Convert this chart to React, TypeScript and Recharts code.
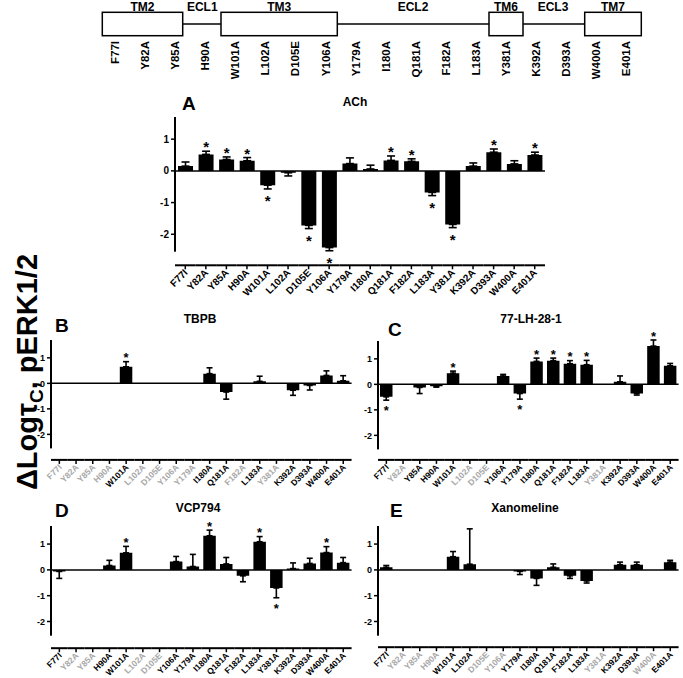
import React from 'react'
import { BarChart, Bar, XAxis, YAxis, ReferenceLine, ErrorBar, LabelList } from 'recharts'

const FONT = 'Arial, "Liberation Sans", Helvetica, sans-serif'

const residues = [
  'F77I', 'Y82A', 'Y85A', 'H90A', 'W101A', 'L102A', 'D105E', 'Y106A', 'Y179A',
  'I180A', 'Q181A', 'F182A', 'L183A', 'Y381A', 'K392A', 'D393A', 'W400A', 'E401A',
]

// A – ACh
const achValues = [0.15, 0.52, 0.36, 0.32, -0.45, -0.06, -1.72, -2.42, 0.23, 0.06, 0.33, 0.30, -0.68, -1.69, 0.15, 0.59, 0.22, 0.50]
const achErrors = [0.13, 0.10, 0.08, 0.10, 0.12, 0.10, 0.10, 0.10, 0.18, 0.12, 0.14, 0.08, 0.10, 0.10, 0.10, 0.10, 0.10, 0.09]
const achStars = ['Y82A', 'Y85A', 'H90A', 'W101A', 'D105E', 'Y106A', 'Q181A', 'F182A', 'L183A', 'Y381A', 'D393A', 'E401A']

// B – TBPB
const tbpbValues = [null, null, null, null, 0.65, null, null, null, null, 0.38, -0.34, null, 0.08, null, -0.27, -0.08, 0.31, 0.10]
const tbpbErrors = [null, null, null, null, 0.20, null, null, null, null, 0.23, 0.28, null, 0.20, null, 0.20, 0.18, 0.18, 0.20]
const tbpbStars = ['W101A']

// C – 77-LH-28-1
const lhValues = [-0.49, null, -0.12, -0.07, 0.44, null, null, 0.33, -0.36, 0.90, 0.93, 0.81, 0.77, null, 0.10, -0.36, 1.50, 0.73]
const lhErrors = [0.13, null, 0.24, 0.04, 0.08, null, null, 0.06, 0.22, 0.13, 0.10, 0.12, 0.17, null, 0.23, 0.06, 0.24, 0.09]
const lhStars = ['F77I', 'W101A', 'Y179A', 'I180A', 'Q181A', 'F182A', 'L183A', 'W400A']

// D – VCP794
const vcpValues = [-0.06, null, null, 0.17, 0.66, null, null, 0.32, 0.13, 1.32, 0.23, -0.23, 1.09, -0.70, 0.05, 0.25, 0.67, 0.28]
const vcpErrors = [0.27, null, null, 0.20, 0.25, null, null, 0.20, 0.47, 0.22, 0.25, 0.23, 0.20, 0.38, 0.22, 0.20, 0.23, 0.20]
const vcpStars = ['W101A', 'I180A', 'L183A', 'Y381A', 'W400A']

// E – Xanomeline
const xanValues = [0.10, null, null, null, 0.51, 0.22, null, null, -0.06, -0.33, 0.10, -0.23, -0.43, null, 0.20, 0.20, null, 0.30]
const xanErrors = [0.07, null, null, null, 0.20, 1.37, null, null, 0.12, 0.27, 0.13, 0.10, 0.08, null, 0.10, 0.10, null, 0.07]
const xanStars: string[] = []

const yTicks = [-2, -1, 0, 1]

function XTick(props: any) {
  const { x, y, payload, band, gap, fontSize, grey } = props
  const ly = y + gap
  const isGrey = grey.includes(payload.value)
  const tx = x + 3
  const ty = ly + 8
  return (
    <g>
      <line x1={x - band / 2} x2={x + band / 2} y1={ly} y2={ly} stroke="#000" strokeWidth={2} />
      <line x1={x} x2={x} y1={ly} y2={ly + 4} stroke="#000" strokeWidth={1.5} />
      <text
        x={tx} y={ty} transform={`rotate(-45 ${tx} ${ty})`} textAnchor="end"
        fontSize={fontSize} fontWeight="bold" fontFamily={FONT} fill={isGrey ? '#a8a8a8' : '#000'}
      >
        {payload.value}
      </text>
    </g>
  )
}

interface PanelCfg {
  values: (number | null)[]
  errors: (number | null)[]
  stars: string[]
  left: number
  top: number
  plotW: number
  plotH: number
  gap: number
  barSize: number
  cap: number
  tickFont: number
  numFont: number
  starFont: number
  starGap: number
}

function Panel({ cfg }: { cfg: PanelCfg }) {
  const { values, errors, stars, left, top, plotW, plotH, gap, barSize, cap, tickFont, numFont, starFont, starGap } = cfg
  const data = residues.map((r, i) => ({ name: r, value: values[i], err: errors[i], star: stars.includes(r) }))
  const grey = residues.filter((_, i) => values[i] == null)
  const yw = 30
  const mt = 24
  const xh = 60
  const band = plotW / residues.length

  const errKey = (d: any) => {
    if (d.value == null || d.err == null) return null
    return d.value >= 0 ? [0, d.err] : [d.err, 0]
  }

  // star above / below the error bar; looked up by residue name
  const starLabel = (p: any) => {
    const { x, y, width, height, value } = p
    const d = data.find((e) => e.name === value)
    if (!d || !d.star || d.value == null || d.err == null) return null
    const h = Number(height)
    const ppu = Math.abs(h) / Math.abs(d.value)
    const topY = Math.min(Number(y), Number(y) + h)
    const botY = Math.max(Number(y), Number(y) + h)
    const cx = Number(x) + Number(width) / 2
    const sy = d.value >= 0
      ? topY - d.err * ppu - starGap + starFont * 0.6
      : botY + d.err * ppu + starGap + starFont * 0.6
    return (
      <text x={cx} y={sy} textAnchor="middle" fontSize={starFont} fontWeight="bold" fontFamily={FONT} fill="#000">*</text>
    )
  }

  return (
    <div style={{ position: 'absolute', left: left - yw, top: top - mt }}>
      <BarChart
        width={yw + plotW + 4} height={mt + plotH + xh} data={data}
        margin={{ top: mt, right: 4, bottom: 0, left: 0 }} barSize={barSize}
      >
        <XAxis
          dataKey="name" axisLine={false} tickLine={false} tickSize={0} tickMargin={0}
          interval={0} height={xh}
          tick={<XTick band={band} gap={gap} fontSize={tickFont} grey={grey} />}
        />
        <YAxis
          domain={[-2.55, 1.7]} ticks={yTicks} width={yw} allowDataOverflow
          axisLine={{ stroke: '#000', strokeWidth: 2 }}
          tickLine={{ stroke: '#000', strokeWidth: 1.5 }} tickSize={4}
          tick={{ fontSize: numFont, fontWeight: 'bold', fill: '#000', fontFamily: FONT }}
        />
        <ReferenceLine y={0} stroke="#000" strokeWidth={1.5} />
        <Bar dataKey="value" fill="#000" isAnimationActive={false}>
          <ErrorBar dataKey={errKey} width={cap} stroke="#000" strokeWidth={1.6} direction="y" />
          <LabelList dataKey="name" content={starLabel} />
        </Bar>
      </BarChart>
    </div>
  )
}

const small = { barSize: 12.5, cap: 3, tickFont: 8.5, numFont: 9, starFont: 13, starGap: 7, plotW: 300.6 }

const panels: PanelCfg[] = [
  { values: achValues, errors: achErrors, stars: achStars, left: 175, top: 116.8, plotW: 370, plotH: 134.7, gap: 13.6,
    barSize: 15, cap: 4, tickFont: 10, numFont: 10, starFont: 15, starGap: 8 },
  { ...small, values: tbpbValues, errors: tbpbErrors, stars: tbpbStars, left: 51, top: 339.6, plotH: 108.4, gap: 11.5 },
  { ...small, values: lhValues, errors: lhErrors, stars: lhStars, left: 378, top: 340.6, plotH: 108.4, gap: 10.5 },
  { ...small, values: vcpValues, errors: vcpErrors, stars: vcpStars, left: 51, top: 525.8, plotH: 109.7, gap: 12.5 },
  { ...small, values: xanValues, errors: xanErrors, stars: xanStars, left: 378, top: 525.8, plotH: 109.7, gap: 11.5 },
]

// schematic of the receptor regions
const domainBoxes = [
  { name: 'TM2', x0: 102.3, x1: 182.7 },
  { name: 'TM3', x0: 221, x1: 337.3 },
  { name: 'TM6', x0: 489, x1: 523 },
  { name: 'TM7', x0: 584.7, x1: 641.3 },
]
const loopLabels = [
  { name: 'ECL1', x: 202.3 },
  { name: 'ECL2', x: 413 },
  { name: 'ECL3', x: 553 },
]

const titles = [
  { t: 'A', x: 182, y: 110, size: 19, anchor: 'start' },
  { t: 'ACh', x: 355, y: 106, size: 12, anchor: 'middle' },
  { t: 'B', x: 55, y: 332, size: 19, anchor: 'start' },
  { t: 'TBPB', x: 200, y: 323, size: 12, anchor: 'middle' },
  { t: 'C', x: 388, y: 336, size: 19, anchor: 'start' },
  { t: '77-LH-28-1', x: 531, y: 323, size: 12, anchor: 'middle' },
  { t: 'D', x: 55, y: 517, size: 19, anchor: 'start' },
  { t: 'VCP794', x: 198, y: 512, size: 12, anchor: 'middle' },
  { t: 'E', x: 390, y: 517, size: 19, anchor: 'start' },
  { t: 'Xanomeline', x: 525, y: 512, size: 12, anchor: 'middle' },
]

export default function App() {
  const resStep = (626.3 - 115) / (residues.length - 1)
  return (
    <div style={{ position: 'absolute', left: 0, top: 0, width: 683, height: 678, background: '#fff', fontFamily: FONT }}>
      <svg width={683} height={678} style={{ position: 'absolute', left: 0, top: 0 }}>
        {/* schematic */}
        <line x1={182.7} x2={221} y1={24} y2={24} stroke="#000" strokeWidth={1.5} />
        <line x1={337.3} x2={489} y1={24} y2={24} stroke="#000" strokeWidth={1.5} />
        <line x1={523} x2={584.7} y1={24} y2={24} stroke="#000" strokeWidth={1.5} />
        {domainBoxes.map((b) => (
          <g key={b.name}>
            <rect x={b.x0} y={12.3} width={b.x1 - b.x0} height={23.4} fill="#fff" stroke="#000" strokeWidth={1.5} />
            <text x={(b.x0 + b.x1) / 2} y={10.5} textAnchor="middle" fontSize={12} fontWeight="bold" fontFamily={FONT}>{b.name}</text>
          </g>
        ))}
        {loopLabels.map((l) => (
          <text key={l.name} x={l.x} y={10.5} textAnchor="middle" fontSize={12} fontWeight="bold" fontFamily={FONT}>{l.name}</text>
        ))}
        {residues.map((r, i) => {
          const x = 115 + i * resStep + 4
          return (
            <text key={r} x={x} y={41} transform={`rotate(-90 ${x} 41)`} textAnchor="end"
              fontSize={11.5} fontWeight="bold" fontFamily={FONT}>{r}</text>
          )
        })}

        {titles.map((t) => (
          <text key={t.t} x={t.x} y={t.y} textAnchor={t.anchor as any} fontSize={t.size} fontWeight="bold" fontFamily={FONT}>{t.t}</text>
        ))}

        {/* shared y label */}
        <text x={37} y={372} transform="rotate(-90 37 372)" textAnchor="middle" fontSize={29} fontWeight="bold" fontFamily={FONT}>
          ΔLogτ<tspan fontSize={19} dy={6}>C</tspan><tspan dy={-6}>, pERK1/2</tspan>
        </text>
      </svg>
      {panels.map((p, i) => <Panel key={i} cfg={p} />)}
    </div>
  )
}
